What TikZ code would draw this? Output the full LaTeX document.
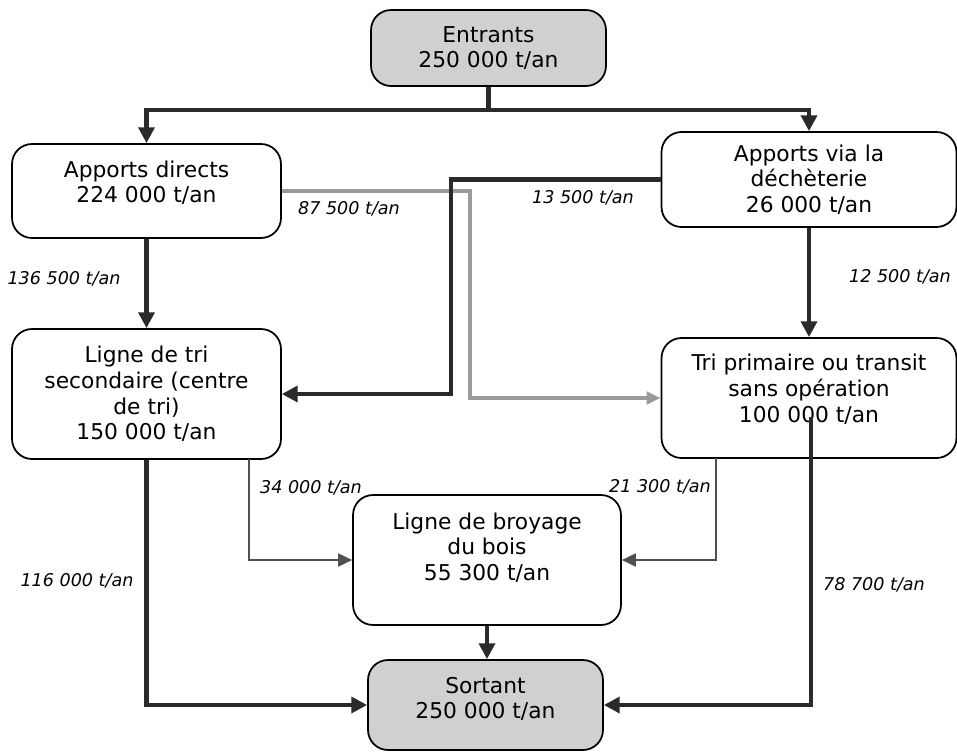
\documentclass[tikz,border=0pt]{standalone}
\usepackage{fontspec}
\setmainfont{DejaVu Sans}
\usetikzlibrary{arrows.meta,positioning}
\definecolor{boxgray}{HTML}{D0D0D0}
\definecolor{flowdark}{HTML}{2A2A2A}
\definecolor{flowgray}{HTML}{9A9A9A}
\definecolor{flowthin}{HTML}{505050}
\tikzset{
  box/.style={draw=black, line width=1pt, rounded corners=0.4cm, align=center,
    fill=white, font=\fontsize{12.4}{14.6}\selectfont},
  endbox/.style={box, fill=boxgray},
  flow/.style={draw=flowdark, line width=2.8pt, -{Triangle[length=9pt,width=9pt]}},
  grayflow/.style={draw=flowgray, line width=2.3pt, -{Triangle[length=8pt,width=7pt]}},
  thinflow/.style={draw=flowthin, line width=0.85pt, -{Triangle[length=8pt,width=7.5pt]}},
  qty/.style={font=\fontsize{10}{12}\selectfont\itshape}
}

\begin{document}
\begin{tikzpicture}[x=0.02cm, y=-0.02cm]
  \useasboundingbox (0,0) rectangle (957,751);

  \node[endbox, minimum width=4.7cm, minimum height=1.52cm] (entr) at (488.5,48) {Entrants\\250 000 t/an};
  \node[box, minimum width=5.38cm, minimum height=1.88cm, text depth=10.5pt] (appdir) at (146.5,191) {Apports directs\\224 000 t/an};
  \node[box, minimum width=5.9cm, minimum height=1.9cm] (appvia) at (809,179.5) {Apports via la\\déchèterie\\26 000 t/an};
  \node[box, minimum width=5.38cm, minimum height=2.6cm] (ligtri) at (146.5,394) {Ligne de tri\\secondaire (centre\\de tri)\\150 000 t/an};
  \node[box, minimum width=5.9cm, minimum height=2.4cm, text depth=11.3pt] (trip) at (809,398) {Tri primaire ou transit\\sans opération\\100 000 t/an};
  \node[box, minimum width=5.36cm, minimum height=2.6cm, text depth=15.5pt] (broy) at (487,560) {Ligne de broyage\\du bois\\55 300 t/an};
  \node[endbox, minimum width=4.7cm, minimum height=1.8cm, text depth=8pt] (sort) at (485.5,705) {Sortant\\250 000 t/an};

  \coordinate (split) at (488.5,110);
  \coordinate (gbend) at (470,191);
  \coordinate (dbend) at (451,179.5);
  \coordinate (l34) at (249,459);
  \coordinate (l21) at (716,458);
  \coordinate (l78) at (811,417);

  \draw[flow] (entr.south) -- (split) -| (appdir.north);
  \draw[flow] (split) -| (appvia.north);
  \draw[flow] (appdir.south) -- (ligtri.north);
  \draw[flow] (appvia.south) -- (trip.north);
  \draw[grayflow] (appdir.east) -- (gbend) |- (trip.west);
  \draw[flow] (appvia.west) -- (dbend) |- (ligtri.east);
  \draw[flow] (ligtri.south) |- (sort.west);
  \draw[thinflow] (l34) |- (broy.west);
  \draw[thinflow] (l21) |- (broy.east);
  \draw[flow] (l78) |- (sort.east);
  \draw[flow] (broy.south) -- (broy.south |- sort.north);

  \node[qty] (q136) at (64,279) {136 500 t/an};
  \node[qty] (q875) at (349,209) {87 500 t/an};
  \node[qty] (q135) at (583,198) {13 500 t/an};
  \node[qty] (q125) at (900,277) {12 500 t/an};
  \node[qty] (q116) at (77,581) {116 000 t/an};
  \node[qty] (q340) at (311,488) {34 000 t/an};
  \node[qty] (q213) at (660,487) {21 300 t/an};
  \node[qty] (q787) at (874,585) {78 700 t/an};
\end{tikzpicture}
\end{document}
